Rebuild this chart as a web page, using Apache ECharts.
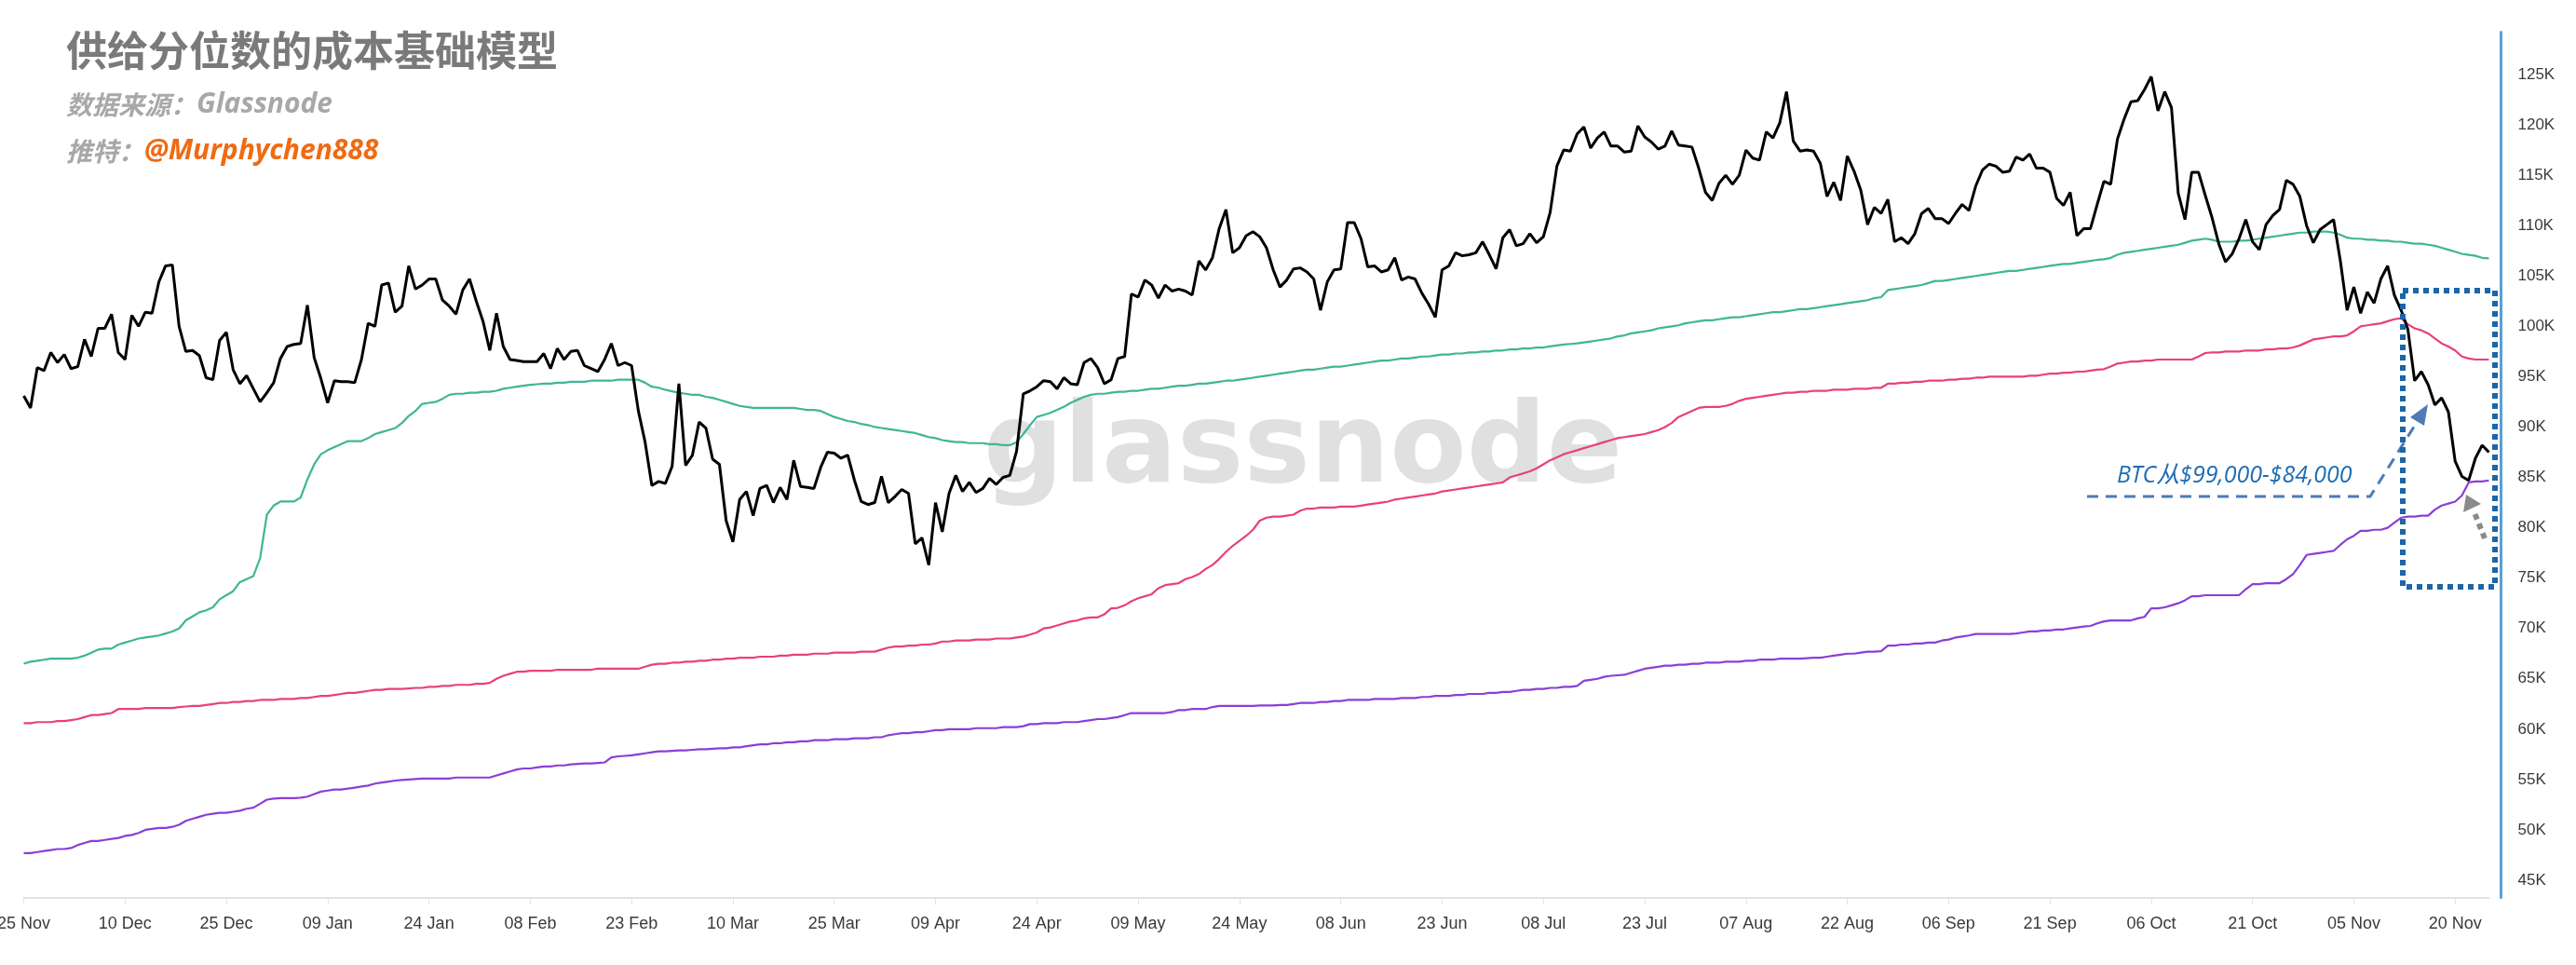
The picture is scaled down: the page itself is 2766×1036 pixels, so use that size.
<!DOCTYPE html>
<html>
<head>
<meta charset="utf-8">
<script src="https://cdn.jsdelivr.net/npm/echarts@6/dist/echarts.min.js"></script>
<style>
html,body{margin:0;padding:0;background:#ffffff;}
#chart{width:2766px;height:1036px;}
</style>
</head>
<body>
<div id="chart"></div>
<script>
// ---------------- DATA ----------------
// daily series, 2024-11-25 .. 2025-11-25 (366 days), values in thousand USD
const startDate = [2024, 10, 25]; // year, monthIndex, day
const monthNames = ['Jan','Feb','Mar','Apr','May','Jun','Jul','Aug','Sep','Oct','Nov','Dec'];

const btcPrice = [
  93.1, 91.9, 95.9, 95.6, 97.4, 96.4, 97.2, 95.8, 96.0, 98.7,
  97.0, 99.8, 99.8, 101.2, 97.4, 96.7, 101.1, 100.0, 101.4, 101.3,
  104.4, 106.0, 106.1, 100.0, 97.5, 97.6, 97.1, 94.9, 94.7, 98.6,
  99.4, 95.7, 94.3, 95.1, 93.8, 92.5, 93.4, 94.4, 96.8, 98.0,
  98.2, 98.3, 102.1, 96.9, 94.8, 92.4, 94.6, 94.5, 94.5, 94.4,
  96.7, 100.3, 100.0, 104.1, 104.3, 101.4, 102.0, 106.0, 103.7, 104.1,
  104.7, 104.7, 102.6, 102.0, 101.2, 103.6, 104.7, 102.5, 100.5, 97.6,
  101.3, 98.0, 96.7, 96.6, 96.5, 96.5, 96.5, 97.3, 95.8, 97.8,
  96.7, 97.5, 97.6, 96.1, 95.8, 95.5, 96.7, 98.3, 96.1, 96.4,
  96.1, 91.6, 88.5, 84.2, 84.6, 84.4, 86.1, 94.3, 86.2, 87.2,
  90.5, 89.9, 86.8, 86.3, 80.7, 78.6, 82.8, 83.6, 81.2, 83.9,
  84.2, 82.5, 84.0, 82.8, 86.7, 84.1, 84.0, 83.9, 86.0, 87.5,
  87.4, 86.9, 87.2, 84.7, 82.6, 82.3, 82.5, 85.1, 82.5, 83.1,
  83.8, 83.4, 78.4, 79.0, 76.3, 82.5, 79.6, 83.4, 85.2, 83.6,
  84.5, 83.5, 83.9, 84.9, 84.3, 85.0, 85.2, 87.6, 93.3, 93.6,
  94.0, 94.6, 94.5, 93.8, 94.9, 94.3, 94.2, 96.4, 96.8, 95.9,
  94.3, 94.7, 96.8, 97.0, 103.2, 102.9, 104.6, 104.1, 102.8, 104.1,
  103.5, 103.7, 103.5, 103.1, 106.5, 105.6, 106.8, 109.7, 111.6, 107.3,
  107.8, 109.0, 109.4, 108.9, 107.8, 105.6, 103.9, 104.6, 105.7, 105.8,
  105.4, 104.7, 101.6, 104.4, 105.6, 105.7, 110.3, 110.3, 108.7, 105.9,
  106.0, 105.4, 105.6, 106.8, 104.6, 104.9, 104.7, 103.3, 102.2, 100.9,
  105.6, 106.0, 107.3, 107.0, 107.1, 107.3, 108.4, 107.1, 105.7, 108.8,
  109.6, 108.0, 108.2, 109.2, 108.3, 108.9, 111.3, 115.9, 117.5, 117.4,
  119.1, 119.8, 117.7, 118.7, 119.3, 117.9, 117.9, 117.3, 117.4, 119.9,
  118.8, 118.3, 117.6, 117.9, 119.4, 118.0, 117.9, 117.8, 115.7, 113.3,
  112.5, 114.2, 115.0, 114.1, 115.0, 117.5, 116.7, 116.5, 119.3, 118.7,
  120.2, 123.3, 118.4, 117.4, 117.5, 117.4, 116.2, 112.9, 114.3, 112.5,
  116.9, 115.4, 113.5, 110.1, 111.8, 111.2, 112.6, 108.4, 108.8, 108.2,
  109.2, 111.2, 111.7, 110.7, 110.7, 110.2, 111.2, 112.1, 111.5, 113.9,
  115.5, 116.1, 115.9, 115.3, 115.4, 116.8, 116.5, 117.1, 115.7, 115.7,
  115.3, 112.7, 112.0, 113.3, 109.0, 109.7, 109.7, 112.1, 114.4, 114.1,
  118.6, 120.6, 122.3, 122.4, 123.5, 124.8, 121.4, 123.3, 121.7, 113.2,
  110.6, 115.3, 115.3, 113.0, 110.8, 108.2, 106.4, 107.2, 108.7, 110.6,
  108.4, 107.6, 110.1, 111.0, 111.6, 114.5, 114.1, 112.9, 110.0, 108.3,
  109.6, 110.1, 110.6, 106.5, 101.6, 103.9, 101.3, 103.4, 102.3, 104.7,
  106.0, 103.1, 101.6, 99.7, 94.6, 95.5, 94.2, 92.2, 92.9, 91.5,
  86.6, 85.1, 84.7, 86.9, 88.2, 87.5
];

const costBasisUpper = [
  66.5, 66.7, 66.8, 66.9, 67.0, 67.0, 67.0, 67.0, 67.1, 67.3,
  67.6, 67.9, 68.0, 68.0, 68.4, 68.6, 68.8, 69.0, 69.1, 69.2,
  69.3, 69.5, 69.7, 70.0, 70.8, 71.2, 71.6, 71.8, 72.1, 72.9,
  73.3, 73.7, 74.6, 74.9, 75.2, 77.0, 81.3, 82.2, 82.6, 82.6,
  82.6, 83.0, 84.8, 86.3, 87.3, 87.7, 88.0, 88.3, 88.6, 88.6,
  88.6, 88.9, 89.3, 89.5, 89.7, 89.9, 90.4, 91.1, 91.6, 92.3,
  92.4, 92.5, 92.8, 93.2, 93.3, 93.3, 93.4, 93.4, 93.5, 93.5,
  93.6, 93.8, 93.9, 94.0, 94.1, 94.2, 94.25, 94.3, 94.3, 94.4,
  94.4, 94.5, 94.5, 94.5, 94.6, 94.6, 94.6, 94.6, 94.7, 94.7,
  94.7, 94.7, 94.4, 94.0, 93.9, 93.7, 93.55, 93.4, 93.3, 93.2,
  93.2, 93.0, 92.9, 92.7, 92.5, 92.3, 92.1, 92.0, 91.9, 91.9,
  91.9, 91.9, 91.9, 91.9, 91.9, 91.8, 91.7, 91.7, 91.6, 91.3,
  91.0, 90.8, 90.6, 90.5, 90.3, 90.2, 90.0, 89.9, 89.8, 89.7,
  89.6, 89.5, 89.4, 89.2, 89.0, 88.9, 88.7, 88.6, 88.5, 88.5,
  88.4, 88.4, 88.4, 88.3, 88.3, 88.2, 88.2, 88.5, 89.3, 90.2,
  91.0, 91.2, 91.4, 91.7, 92.0, 92.4, 92.7, 93.0, 93.2, 93.3,
  93.3, 93.4, 93.5, 93.5, 93.6, 93.6, 93.7, 93.8, 93.8, 93.9,
  94.0, 94.1, 94.1, 94.2, 94.3, 94.3, 94.4, 94.5, 94.6, 94.6,
  94.7, 94.8, 94.9, 95.0, 95.1, 95.2, 95.3, 95.4, 95.5, 95.6,
  95.7, 95.7, 95.8, 95.9, 96.0, 96.0, 96.1, 96.2, 96.3, 96.4,
  96.5, 96.6, 96.6, 96.7, 96.8, 96.8, 96.9, 97.0, 97.0, 97.1,
  97.2, 97.2, 97.3, 97.3, 97.4, 97.4, 97.5, 97.5, 97.6, 97.6,
  97.7, 97.7, 97.8, 97.8, 97.9, 97.9, 98.0, 98.1, 98.2, 98.25,
  98.3, 98.4, 98.5, 98.6, 98.7, 98.8, 99.0, 99.1, 99.3, 99.4,
  99.5, 99.6, 99.8, 99.9, 100.0, 100.1, 100.3, 100.4, 100.5, 100.6,
  100.6, 100.7, 100.8, 100.9, 100.9, 101.0, 101.1, 101.2, 101.3, 101.4,
  101.4, 101.5, 101.6, 101.7, 101.7, 101.8, 101.9, 102.0, 102.1, 102.2,
  102.3, 102.4, 102.5, 102.6, 102.8, 102.9, 103.6, 103.7, 103.8, 103.9,
  104.0, 104.1, 104.3, 104.5, 104.5, 104.6, 104.7, 104.8, 104.9, 105.0,
  105.1, 105.2, 105.3, 105.4, 105.5, 105.5, 105.6, 105.7, 105.8, 105.9,
  106.0, 106.1, 106.2, 106.2, 106.3, 106.4, 106.5, 106.6, 106.65, 106.8,
  107.1, 107.3, 107.4, 107.5, 107.6, 107.7, 107.8, 107.9, 108.0, 108.1,
  108.3, 108.5, 108.6, 108.7, 108.6, 108.4, 108.4, 108.4, 108.5, 108.5,
  108.6, 108.7, 108.8, 108.9, 109.0, 109.1, 109.2, 109.3, 109.3, 109.4,
  109.4, 109.4, 109.3, 109.1, 108.8, 108.7, 108.7, 108.6, 108.6, 108.5,
  108.5, 108.4, 108.4, 108.3, 108.2, 108.2, 108.1, 108.0, 107.8, 107.6,
  107.4, 107.2, 107.1, 107.0, 106.8, 106.75
];

const costBasisMiddle = [
  60.6, 60.6, 60.7, 60.7, 60.7, 60.8, 60.8, 60.9, 61.0, 61.2,
  61.4, 61.4, 61.5, 61.6, 62.0, 62.0, 62.0, 62.0, 62.1, 62.1,
  62.1, 62.1, 62.1, 62.2, 62.25, 62.3, 62.3, 62.4, 62.5, 62.6,
  62.6, 62.7, 62.7, 62.8, 62.8, 62.9, 62.9, 62.9, 63.0, 63.0,
  63.0, 63.1, 63.1, 63.2, 63.3, 63.3, 63.4, 63.5, 63.6, 63.6,
  63.7, 63.8, 63.9, 63.9, 64.0, 64.0, 64.0, 64.05, 64.1, 64.1,
  64.2, 64.2, 64.3, 64.3, 64.4, 64.4, 64.4, 64.5, 64.5, 64.6,
  65.0, 65.3, 65.5, 65.7, 65.7, 65.8, 65.8, 65.8, 65.8, 65.9,
  65.9, 65.9, 65.9, 65.9, 65.9, 66.0, 66.0, 66.0, 66.0, 66.0,
  66.0, 66.0, 66.2, 66.4, 66.5, 66.5, 66.6, 66.6, 66.7, 66.7,
  66.8, 66.8, 66.9, 66.9, 67.0, 67.0, 67.1, 67.1, 67.1, 67.2,
  67.2, 67.2, 67.3, 67.3, 67.4, 67.4, 67.4, 67.5, 67.5, 67.5,
  67.6, 67.6, 67.6, 67.6, 67.7, 67.7, 67.7, 67.9, 68.1, 68.2,
  68.2, 68.3, 68.3, 68.4, 68.4, 68.5, 68.7, 68.7, 68.8, 68.8,
  68.8, 68.9, 68.9, 68.9, 69.0, 69.0, 69.0, 69.1, 69.2, 69.4,
  69.6, 70.0, 70.1, 70.3, 70.5, 70.7, 70.8, 71.0, 71.1, 71.1,
  71.4, 72.0, 72.05, 72.3, 72.7, 73.0, 73.2, 73.4, 74.0, 74.3,
  74.4, 74.5, 74.9, 75.1, 75.4, 75.9, 76.3, 76.9, 77.6, 78.2,
  78.7, 79.2, 79.8, 80.7, 81.0, 81.1, 81.1, 81.2, 81.3, 81.7,
  81.9, 81.9, 82.0, 82.0, 82.0, 82.1, 82.1, 82.1, 82.2, 82.3,
  82.4, 82.5, 82.6, 82.8, 82.9, 83.0, 83.1, 83.2, 83.3, 83.4,
  83.6, 83.7, 83.8, 83.9, 84.0, 84.1, 84.2, 84.3, 84.4, 84.5,
  85.0, 85.2, 85.4, 85.6, 85.9, 86.3, 86.7, 87.0, 87.3, 87.5,
  87.7, 87.9, 88.1, 88.3, 88.5, 88.7, 88.9, 89.0, 89.1, 89.2,
  89.3, 89.5, 89.7, 90.0, 90.4, 91.0, 91.3, 91.6, 91.9, 92.0,
  92.0, 92.0, 92.1, 92.3, 92.6, 92.8, 92.9, 93.0, 93.1, 93.2,
  93.3, 93.4, 93.4, 93.5, 93.5, 93.6, 93.6, 93.6, 93.7, 93.7,
  93.7, 93.8, 93.8, 93.8, 93.9, 93.9, 94.3, 94.3, 94.4, 94.4,
  94.5, 94.5, 94.6, 94.6, 94.6, 94.7, 94.7, 94.8, 94.8, 94.9,
  94.9, 95.0, 95.0, 95.0, 95.0, 95.0, 95.0, 95.1, 95.1, 95.2,
  95.3, 95.3, 95.4, 95.4, 95.5, 95.5, 95.6, 95.7, 95.75, 96.0,
  96.3, 96.4, 96.5, 96.5, 96.6, 96.6, 96.7, 96.7, 96.7, 96.7,
  96.7, 96.7, 97.0, 97.35, 97.4, 97.4, 97.5, 97.5, 97.5, 97.6,
  97.6, 97.6, 97.7, 97.7, 97.8, 97.8, 97.9, 98.1, 98.4, 98.7,
  98.8, 98.9, 99.0, 99.0, 99.1, 99.5, 100.0, 100.1, 100.2, 100.3,
  100.5, 100.7, 100.8, 100.2, 99.8, 99.6, 99.3, 98.8, 98.3, 98.0,
  97.6, 97.0, 96.8, 96.7, 96.7, 96.7
];

const costBasisLower = [
  47.7, 47.7, 47.8, 47.9, 48.0, 48.1, 48.1, 48.2, 48.5, 48.7,
  48.9, 48.9, 49.0, 49.1, 49.2, 49.4, 49.5, 49.7, 50.0, 50.1,
  50.2, 50.2, 50.3, 50.5, 50.9, 51.1, 51.3, 51.5, 51.6, 51.7,
  51.7, 51.8, 51.9, 52.1, 52.2, 52.6, 53.0, 53.1, 53.15, 53.15,
  53.15, 53.2, 53.3, 53.55, 53.8, 53.9, 54.0, 54.0, 54.1, 54.2,
  54.3, 54.4, 54.6, 54.7, 54.8, 54.9, 54.95, 55.0, 55.05, 55.1,
  55.1, 55.1, 55.1, 55.1, 55.2, 55.2, 55.2, 55.2, 55.2, 55.2,
  55.4, 55.6, 55.8, 56.0, 56.1, 56.1, 56.2, 56.3, 56.3, 56.4,
  56.4, 56.5, 56.55, 56.6, 56.6, 56.65, 56.7, 57.2, 57.3, 57.35,
  57.4, 57.5, 57.6, 57.7, 57.8, 57.8, 57.85, 57.9, 57.9, 57.95,
  58.0, 58.0, 58.05, 58.1, 58.1, 58.2, 58.2, 58.3, 58.4, 58.5,
  58.5, 58.6, 58.6, 58.7, 58.7, 58.8, 58.8, 58.9, 58.9, 58.9,
  59.0, 59.0, 59.0, 59.1, 59.1, 59.1, 59.2, 59.2, 59.4, 59.5,
  59.6, 59.6, 59.7, 59.7, 59.8, 59.9, 59.9, 60.0, 60.0, 60.0,
  60.0, 60.1, 60.1, 60.1, 60.1, 60.2, 60.2, 60.2, 60.3, 60.5,
  60.5, 60.6, 60.6, 60.6, 60.7, 60.7, 60.7, 60.8, 60.9, 61.0,
  61.0, 61.1, 61.2, 61.4, 61.6, 61.6, 61.6, 61.6, 61.6, 61.6,
  61.7, 61.9, 61.9, 62.0, 62.0, 62.0, 62.2, 62.3, 62.3, 62.3,
  62.3, 62.3, 62.3, 62.35, 62.35, 62.35, 62.4, 62.4, 62.5, 62.6,
  62.6, 62.6, 62.7, 62.7, 62.8, 62.8, 62.9, 62.9, 62.9, 62.9,
  63.0, 63.0, 63.0, 63.0, 63.1, 63.1, 63.1, 63.2, 63.2, 63.3,
  63.3, 63.3, 63.4, 63.4, 63.5, 63.5, 63.5, 63.6, 63.6, 63.7,
  63.7, 63.8, 63.9, 63.9, 64.0, 64.0, 64.1, 64.1, 64.2, 64.2,
  64.3, 64.8, 64.9, 65.0, 65.2, 65.3, 65.35, 65.4, 65.6, 65.8,
  66.0, 66.1, 66.2, 66.3, 66.3, 66.4, 66.4, 66.5, 66.5, 66.6,
  66.6, 66.6, 66.7, 66.7, 66.7, 66.8, 66.8, 66.9, 66.9, 66.9,
  67.0, 67.0, 67.0, 67.0, 67.05, 67.1, 67.1, 67.2, 67.3, 67.4,
  67.5, 67.5, 67.6, 67.7, 67.7, 67.75, 68.3, 68.3, 68.4, 68.4,
  68.5, 68.5, 68.6, 68.6, 68.8, 68.9, 69.1, 69.2, 69.3, 69.45,
  69.45, 69.45, 69.45, 69.45, 69.45, 69.5, 69.6, 69.7, 69.7, 69.8,
  69.8, 69.9, 69.9, 70.0, 70.1, 70.2, 70.25, 70.5, 70.7, 70.8,
  70.8, 70.8, 70.8, 71.0, 71.15, 72.0, 72.0, 72.1, 72.3, 72.5,
  72.8, 73.2, 73.2, 73.3, 73.3, 73.3, 73.3, 73.3, 73.3, 73.9,
  74.4, 74.4, 74.5, 74.5, 74.5, 74.9, 75.4, 76.3, 77.3, 77.4,
  77.5, 77.6, 77.7, 78.3, 78.85, 79.2, 79.7, 79.7, 79.8, 79.8,
  80.0, 80.5, 81.0, 81.1, 81.1, 81.2, 81.2, 81.8, 82.2, 82.4,
  82.6, 83.2, 84.5, 84.6, 84.6, 84.7
];

const yTickValues = [45, 50, 55, 60, 65, 70, 75, 80, 85, 90, 95, 100, 105, 110, 115, 120, 125];
const xLabelEvery = 15;

const titleText = '供给分位数的成本基础模型';
const sourceLabel = '数据来源：';
const sourceName = 'Glassnode';
const twitterLabel = '推特：';
const twitterName = '@Murphychen888';
const annotationText = 'BTC从$99,000-$84,000';
const watermarkText = 'glassnode';

// ---------------- BUILD ----------------
const dates = [];
for (let i = 0; i < btcPrice.length; i++) {
  const d = new Date(Date.UTC(startDate[0], startDate[1], startDate[2] + i));
  dates.push(String(d.getUTCDate()).padStart(2, '0') + ' ' + monthNames[d.getUTCMonth()]);
}

const chart = echarts.init(document.getElementById('chart'), null, {renderer: 'canvas'});

const CJK = '"Noto Sans CJK SC", sans-serif';
const LAT = '"Open Sans", "Noto Sans CJK SC", sans-serif';

const option = {
  backgroundColor: '#ffffff',
  animation: false,
  grid: {left: 25.5, right: 93.5, top: 34.6, bottom: 72.6, containLabel: false, outerBoundsMode: 'none'},
  xAxis: {
    type: 'category',
    data: dates,
    boundaryGap: false,
    axisLine: {show: true, lineStyle: {color: '#e3e3e3', width: 2}},
    axisTick: {show: true, interval: xLabelEvery - 1, length: 8, lineStyle: {color: '#e3e3e3', width: 1}},
    axisLabel: {
      interval: xLabelEvery - 1, margin: 20, color: '#3a3a3a', fontSize: 18,
      fontFamily: '"Liberation Sans", Arial, sans-serif', hideOverlap: false
    },
    splitLine: {show: false}
  },
  yAxis: {
    type: 'value',
    position: 'right',
    min: 43.3,
    max: 129.2,
    offset: 13,
    axisLine: {show: true, lineStyle: {color: '#5b9fd6', width: 3}},
    axisTick: {show: false},
    splitLine: {show: false},
    axisLabel: {
      customValues: yTickValues,
      margin: 18, color: '#3a3a3a', fontSize: 17,
      fontFamily: '"Liberation Sans", Arial, sans-serif',
      formatter: v => v + 'K'
    }
  },
  series: [
    {name: 'Upper', type: 'line', data: costBasisUpper, showSymbol: false, z: 2,
     lineStyle: {color: '#3fb597', width: 2.2}, itemStyle: {color: '#3fb597'}},
    {name: 'Middle', type: 'line', data: costBasisMiddle, showSymbol: false, z: 2,
     lineStyle: {color: '#e8407d', width: 2.2}, itemStyle: {color: '#e8407d'}},
    {name: 'Lower', type: 'line', data: costBasisLower, showSymbol: false, z: 2,
     lineStyle: {color: '#8a3fd6', width: 2.2}, itemStyle: {color: '#8a3fd6'}},
    {name: 'BTC', type: 'line', data: btcPrice, showSymbol: false, z: 3,
     lineStyle: {color: '#000000', width: 3}, itemStyle: {color: '#000000'}}
  ],
  graphic: [
    // watermark
    {type: 'text', z: 0, x: 1056, y: 486, silent: true,
     style: {text: watermarkText, fill: '#e0e0e0', fontSize: 120, fontWeight: 'bold',
             fontFamily: '"DejaVu Sans", sans-serif',
             align: 'left', verticalAlign: 'middle', textAlign: 'left', textVerticalAlign: 'middle'}},
    // title block
    {type: 'text', z: 10, x: 71, y: 54,
     style: {text: titleText, fill: '#7a7a7a', fontSize: 44, fontWeight: 'bold', fontFamily: CJK,
             align: 'left', verticalAlign: 'middle', textAlign: 'left', textVerticalAlign: 'middle'}},
    {type: 'text', z: 10, x: 71, y: 112,
     style: {text: '{a|' + sourceLabel + '}{b|' + sourceName + '}',
             align: 'left', verticalAlign: 'middle', textAlign: 'left', textVerticalAlign: 'middle',
             rich: {
               a: {fill: '#a8a8a8', color: '#a8a8a8', fontSize: 28, fontWeight: 'bold', fontStyle: 'italic', fontFamily: CJK},
               b: {fill: '#a8a8a8', color: '#a8a8a8', fontSize: 30, fontWeight: 'bold', fontStyle: 'italic', fontFamily: LAT}
             }}},
    {type: 'text', z: 10, x: 71, y: 162,
     style: {text: '{a|' + twitterLabel + '}{b|' + twitterName + '}',
             align: 'left', verticalAlign: 'middle', textAlign: 'left', textVerticalAlign: 'middle',
             rich: {
               a: {fill: '#a8a8a8', color: '#a8a8a8', fontSize: 28, fontWeight: 'bold', fontStyle: 'italic', fontFamily: CJK},
               b: {fill: '#f06a12', color: '#f06a12', fontSize: 30, fontWeight: 'bold', fontStyle: 'italic', fontFamily: LAT}
             }}},
    // annotation text
    {type: 'text', z: 20, x: 2273, y: 511,
     style: {text: annotationText, fill: '#1f6db2', fontSize: 25, fontStyle: 'italic',
             fontFamily: LAT, align: 'left', verticalAlign: 'middle', textAlign: 'left', textVerticalAlign: 'middle'}},
    // dashed leader line + arrow head
    {type: 'polyline', z: 20,
     shape: {points: [[2241, 533], [2545, 533], [2594, 455]]},
     style: {stroke: '#4e7bb6', lineWidth: 3, lineDash: [12, 8], fill: null}},
    {type: 'polygon', z: 20,
     shape: {points: [[2607, 434], [2603, 457], [2588, 448]]},
     style: {fill: '#4e7bb6'}},
    // dotted highlight rectangle
    {type: 'rect', z: 20,
     shape: {x: 2580, y: 312, width: 99, height: 318},
     style: {stroke: '#1b66a8', lineWidth: 6, lineDash: [6, 5], fill: null}},
    // grey dotted arrow
    {type: 'line', z: 20,
     shape: {x1: 2668, y1: 578, x2: 2656, y2: 548},
     style: {stroke: '#8a8a8a', lineWidth: 6, lineDash: [6, 5]}},
    {type: 'polygon', z: 20,
     shape: {points: [[2648, 531], [2664, 541], [2645, 550]]},
     style: {fill: '#8a8a8a'}}
  ]
};

chart.setOption(option);
</script>
</body>
</html>
